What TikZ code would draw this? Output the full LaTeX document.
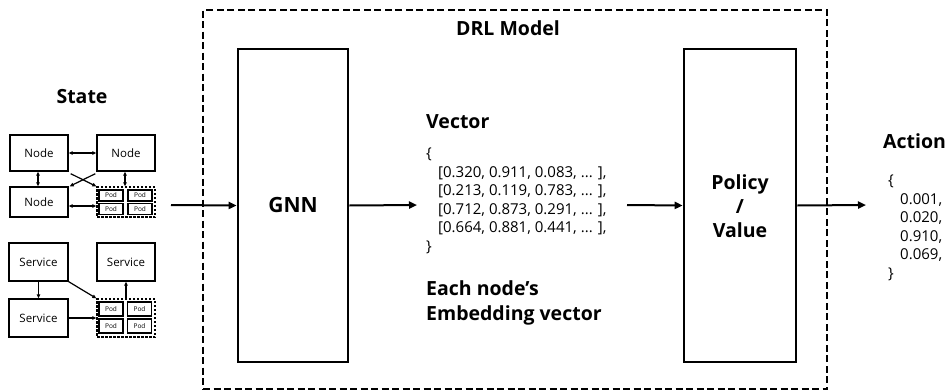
\documentclass[tikz,border=0pt]{standalone}
\usepackage{fontspec}
\setmainfont{Open Sans}
\usetikzlibrary{arrows.meta}
\begin{document}
\begin{tikzpicture}[x=1pt,y=-1pt,
  title/.style={font=\bfseries\fontsize{19.5}{24}\selectfont, inner sep=0pt},
  bigbox/.style={draw, line width=2.6pt, inner sep=0pt},
  frame/.style={draw, line width=2.6pt, dash pattern=on 7pt off 3.5pt, inner sep=0pt},
  bigarrow/.style={line width=2pt, -{Triangle[length=8pt,width=7pt]}},
  smallbox/.style={draw, line width=1.4pt, inner sep=0pt, font=\fontsize{11.5}{13}\selectfont},
  podgroup/.style={draw, line width=1.3pt, dash pattern=on 2.5pt off 1.5pt, inner sep=0pt},
  podbox/.style={draw, line width=1.2pt, inner sep=0pt, minimum width=24pt, font=\fontsize{6.5}{7}\selectfont},
  tiny/.style={line width=1.2pt, {Triangle[length=4pt,width=3.5pt]}-{Triangle[length=4pt,width=3.5pt]}},
  tinyto/.style={line width=1.2pt, -{Triangle[length=4pt,width=3.5pt]}},
  data/.style={align=left, inner sep=0pt, anchor=north west, font=\fontsize{15}{18.5}\selectfont}
]
\useasboundingbox (0,0) rectangle (951,391);

% DRL model frame and its two blocks
\node[frame, minimum width=624pt, minimum height=379pt] (drl) at (515,199.5) {};
\node[title] (drltitle) at (508,28) {DRL Model};
\node[bigbox, minimum width=110pt, minimum height=313pt] (gnn) at (293,205.5) {};
\node[title, font=\bfseries\fontsize{21}{24}\selectfont] (gnnlabel) at (293,205) {GNN};
\node[bigbox, minimum width=112pt, minimum height=313pt] (policy) at (740,205.5) {};
\node[title, align=center, font=\bfseries\fontsize{19.5}{24}\selectfont] (policylabel) at (740,206) {Policy\\/\\Value};

% State: nodes and pods
\node[title] (statetitle) at (82,97) {State};
\node[smallbox, minimum width=58pt, minimum height=36pt] (n1) at (39,153) {Node};
\node[smallbox, minimum width=58pt, minimum height=36pt] (n2) at (126,153) {Node};
\node[smallbox, minimum width=58pt, minimum height=30pt] (n3) at (39,202) {Node};
\node[podgroup, minimum width=58pt, minimum height=30pt] (pg1) at (126,202) {};
\node[podbox, minimum height=11pt] (pa) at (111,195.5) {Pod};
\node[podbox, minimum height=11pt] (pb) at (140,195.5) {Pod};
\node[podbox, minimum height=11pt] (pc) at (111,209) {Pod};
\node[podbox, minimum height=11pt] (pd) at (140,209) {Pod};

\draw[tiny] (n1) -- (n2);
\draw[tiny] ([xshift=-1pt]n1.south) -- ([xshift=-1pt]n3.north);
\draw[tiny] ([xshift=-1pt]n2.south) -- ([xshift=-1pt]pg1.north);
\draw[tiny] ([yshift=-4pt]n3.east) -- ([yshift=-4pt]pg1.west);
\draw[tinyto] ([shift={(2pt,-2pt)}]n1.south east) -- (pg1.north west);
\draw[tinyto] ([shift={(-1pt,-2pt)}]n2.south west) -- ([xshift=1pt]n3.north east);

% State: services and pods
\node[smallbox, minimum width=59pt, minimum height=38pt] (s1) at (38.5,262) {Service};
\node[smallbox, minimum width=58pt, minimum height=38pt] (s2) at (126,262) {Service};
\node[smallbox, minimum width=59pt, minimum height=38pt] (s3) at (38.5,318) {Service};
\node[podgroup, minimum width=58pt, minimum height=38pt] (pg2) at (126,318) {};
\node[podbox, minimum height=14pt] (pe) at (111,309) {Pod};
\node[podbox, minimum height=14pt] (pf) at (139.5,309) {Pod};
\node[podbox, minimum height=14pt] (pg) at (111,326) {Pod};
\node[podbox, minimum height=14pt] (ph) at (139.5,326) {Pod};

\draw[tinyto] (s1) -- (s3);
\draw[tinyto] (s1.south east) -- (pg2.north west);
\draw[tinyto] (s3) -- (pg2);
\draw[tinyto] (pg2) -- (s2);

% Embedding vector
\node[title, anchor=west] (vectitle) at (426,122) {Vector};
\node[data] (vec) at (426,148) {\{\\
\hspace*{12pt}[0.320, 0.911, 0.083, ... ],\\
\hspace*{12pt}[0.213, 0.119, 0.783, ... ],\\
\hspace*{12pt}[0.712, 0.873, 0.291, ... ],\\
\hspace*{12pt}[0.664, 0.881, 0.441, ... ],\\
\}};
\node[title, align=left, anchor=north west, font=\bfseries\fontsize{19.5}{25}\selectfont] (embtitle) at (426,280) {Each node’s\\Embedding vector};

% Action
\node[title, anchor=west] (acttitle) at (883,141) {Action};
\node[data] (act) at (888,175) {\{\\
\hspace*{12pt}0.001,\\
\hspace*{12pt}0.020,\\
\hspace*{12pt}0.910,\\
\hspace*{12pt}0.069,\\
\}};

% Data flow
\coordinate (src) at (171,205);
\coordinate (vecin) at (417,205);
\coordinate (vecout) at (627,205);
\coordinate (actin) at (866,205);
\draw[bigarrow] (src) -- (gnn.west);
\draw[bigarrow] (gnn.east) -- (vecin);
\draw[bigarrow] (vecout) -- (policy.west);
\draw[bigarrow] (policy.east) -- (actin);
\end{tikzpicture}
\end{document}
